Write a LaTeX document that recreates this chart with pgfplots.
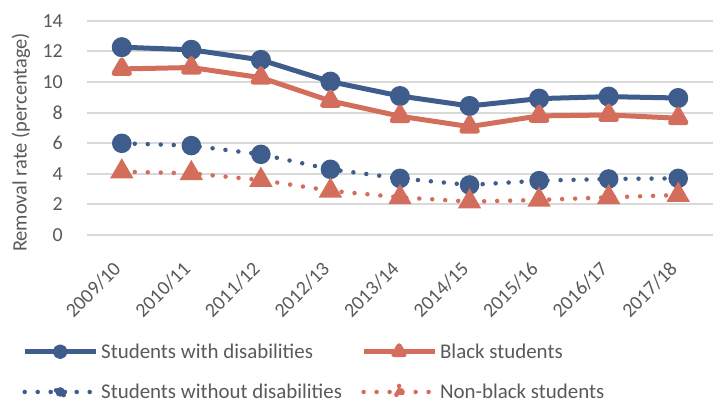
\documentclass[border=0pt]{standalone}
\usepackage{fontspec}
\setmainfont{Carlito}
\usepackage{pgfplots}
\pgfplotsset{compat=1.18}

\definecolor{sblue}{HTML}{3E5D8C}
\definecolor{sred}{HTML}{D46E5C}
\definecolor{txt}{HTML}{595959}
\definecolor{grid}{HTML}{D9D9D9}

\tikzset{
  solidline/.style={line width=5bp, line join=round},
  dotline/.style={line width=4.5bp, line cap=round, dash pattern=on 0bp off 13bp},
}
\pgfplotsset{
  % legend samples: the series line with a smaller marker in its middle
  legcircle/.style 2 args={legend image code/.code={
      \draw[#1, #2] (0bp,0bp) -- (71bp,0bp);
      \fill[#1] (35.5bp,0bp) circle[radius=4.8bp];}},
  legtriangle/.style 2 args={legend image code/.code={
      \draw[#1, #2] (0bp,0bp) -- (71bp,0bp);
      \fill[#1] (35.5bp,6bp) -- ++(-5.2bp,-9bp) -- ++(10.4bp,0bp) -- cycle;}},
}

\begin{document}
\begin{tikzpicture}
\begin{axis}[
    scale only axis,
    width=626bp, height=214.3bp,
    font=\fontsize{21}{25}\selectfont,
    /pgf/number format/assume math mode=true,
    xmin=-0.5, xmax=8.5,
    ymin=0, ymax=14,
    xtick={0,...,8},
    xticklabels={2009/10,2010/11,2011/12,2012/13,2013/14,2014/15,2015/16,2016/17,2017/18},
    ytick={0,2,...,14},
    major tick length=0pt,
    axis line style={draw=none},
    ymajorgrids=true,
    grid style={line width=2bp, color=grid},
    tick label style={text=txt, font=\fontsize{20}{24}\selectfont},
    xticklabel style={anchor=east, xshift=-2bp, yshift=-28bp, rotate=45},
    yticklabel style={anchor=east, inner sep=0pt, xshift=-24bp},
    ylabel={Removal rate (percentage)},
    every axis y label/.style={at={(rel axis cs:0,0.5)}, anchor=center,
        xshift=-66bp, yshift=-14.6bp, rotate=90, text=txt,
        font=\fontsize{20.5}{24}\selectfont},
    legend columns=2,
    legend cell align=left,
    legend style={at={(rel axis cs:0,0)}, anchor=north west,
        xshift=-65bp, yshift=-108bp, draw=none, fill=none,
        inner sep=0pt, text=txt, row sep=24bp,
        nodes={inner xsep=3bp, inner ysep=0pt},
        /tikz/every even column/.append style={column sep=16bp}},
]

\addplot[sblue, solidline, mark=*, mark size=7.5bp, mark options={solid},
    legcircle={sblue}{solidline}]
coordinates {(0,12.27)(1,12.10)(2,11.44)(3,10.02)(4,9.08)(5,8.43)(6,8.91)(7,9.04)(8,8.95)};
\addlegendentry{Students with disabilities}

\addplot[sred, solidline, mark=triangle*, mark size=9bp, mark options={solid},
    legtriangle={sred}{solidline}]
coordinates {(0,10.85)(1,10.94)(2,10.28)(3,8.76)(4,7.76)(5,7.08)(6,7.78)(7,7.84)(8,7.63)};
\addlegendentry{Black students}

\addplot[sblue, dotline, mark=*, mark size=7.5bp, mark options={solid},
    legcircle={sblue}{dotline}]
coordinates {(0,5.99)(1,5.84)(2,5.27)(3,4.29)(4,3.70)(5,3.27)(6,3.55)(7,3.66)(8,3.70)};
\addlegendentry{Students without disabilities}

\addplot[sred, dotline, mark=triangle*, mark size=9bp, mark options={solid},
    legtriangle={sred}{dotline}]
coordinates {(0,4.14)(1,4.03)(2,3.59)(3,2.89)(4,2.46)(5,2.18)(6,2.29)(7,2.46)(8,2.61)};
\addlegendentry{Non-black students}

\end{axis}
\path (current axis.south west) ++(-87bp,-169bp) rectangle ++(714bp,404bp);
\end{tikzpicture}
\end{document}
